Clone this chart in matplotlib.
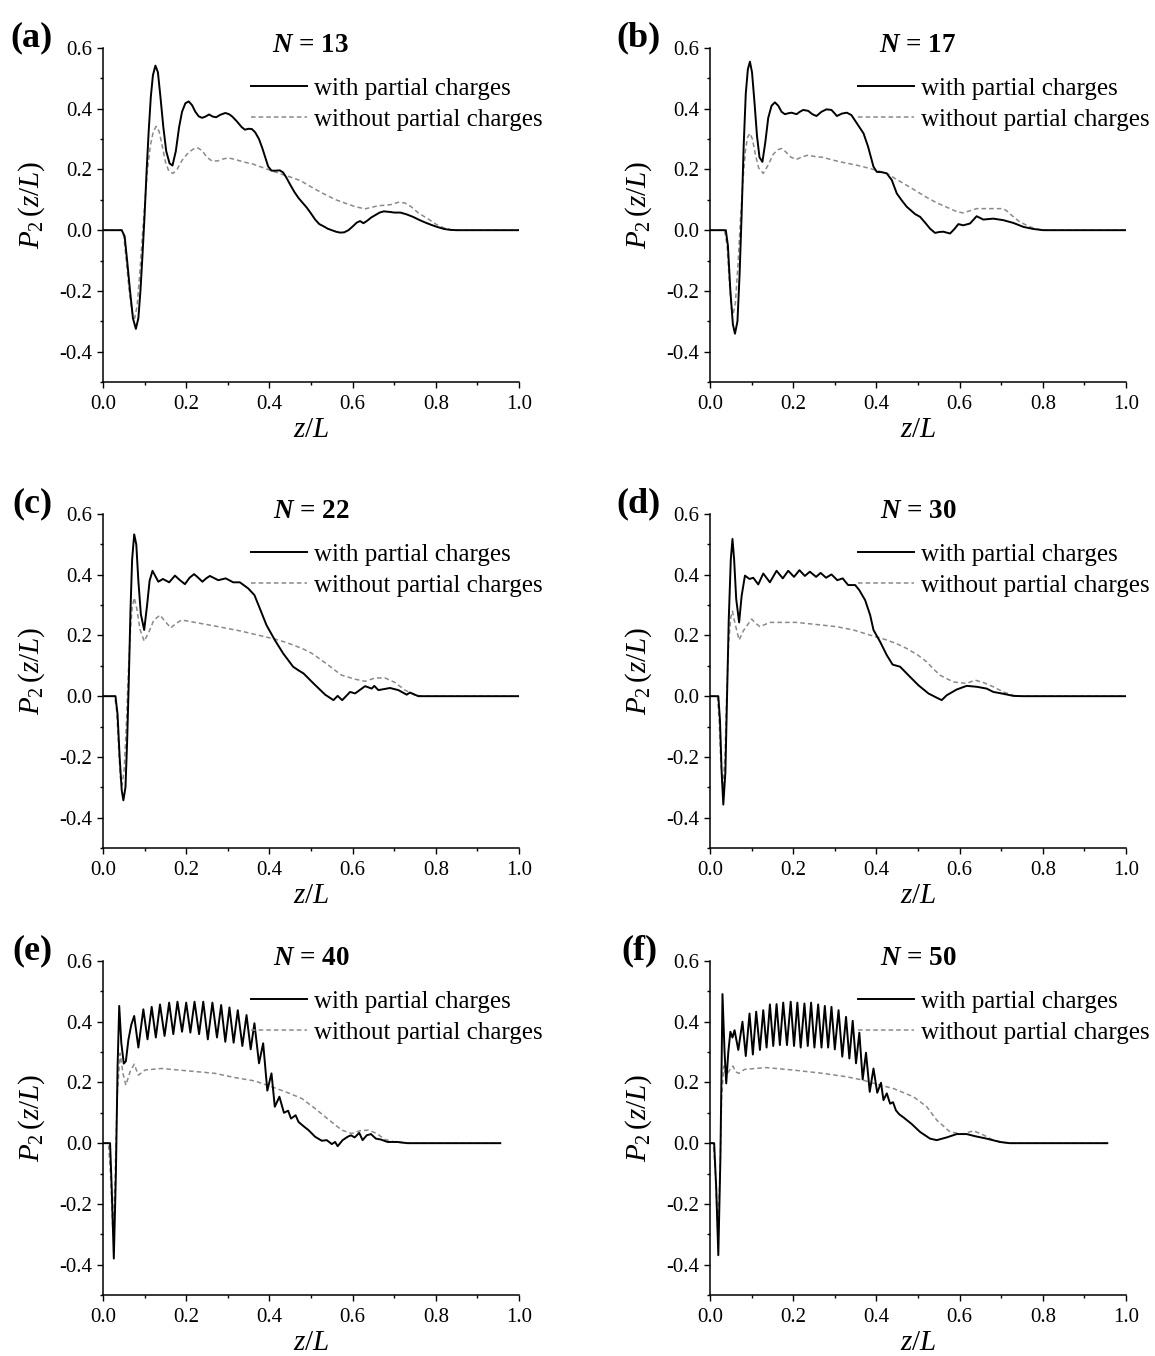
import numpy as np
import matplotlib
matplotlib.use("Agg")
from matplotlib import pyplot as plt
from matplotlib.ticker import MultipleLocator

plt.rcParams['font.family'] = ['Liberation Serif', 'DejaVu Serif']
plt.rcParams['mathtext.fontset'] = 'custom'
plt.rcParams['mathtext.rm'] = 'Liberation Serif'
plt.rcParams['mathtext.it'] = 'Liberation Serif:italic'
plt.rcParams['mathtext.bf'] = 'Liberation Serif:bold'
plt.rcParams['mathtext.bfit'] = 'Liberation Serif:italic:bold'
plt.rcParams['axes.unicode_minus'] = False

# ---- data: (z/L, P2) pairs ----
a_with = [(0, 0), (0.045, 0), (0.052, -0.02), (0.058, -0.1), (0.065, -0.2), (0.072, -0.29), (0.079, -0.325),
          (0.085, -0.29), (0.09, -0.2), (0.095, -0.08), (0.1, 0.05), (0.105, 0.2), (0.11, 0.33), (0.115, 0.44),
          (0.12, 0.51), (0.126, 0.542), (0.132, 0.52), (0.138, 0.44), (0.145, 0.34), (0.152, 0.26), (0.16, 0.22),
          (0.167, 0.213), (0.175, 0.26), (0.183, 0.34), (0.19, 0.39), (0.198, 0.418), (0.206, 0.424), (0.214, 0.412),
          (0.222, 0.39), (0.23, 0.375), (0.238, 0.37), (0.246, 0.374), (0.255, 0.381), (0.264, 0.374), (0.272, 0.372),
          (0.282, 0.38), (0.294, 0.386), (0.303, 0.382), (0.311, 0.374), (0.322, 0.358), (0.333, 0.34), (0.341, 0.331),
          (0.35, 0.334), (0.358, 0.333), (0.366, 0.322), (0.375, 0.3), (0.383, 0.27), (0.39, 0.24), (0.397, 0.21),
          (0.405, 0.196), (0.415, 0.196), (0.425, 0.197), (0.433, 0.19), (0.44, 0.175), (0.45, 0.15), (0.46, 0.126),
          (0.47, 0.106), (0.48, 0.09), (0.49, 0.074), (0.5, 0.055), (0.51, 0.035), (0.52, 0.02), (0.53, 0.013),
          (0.54, 0.005), (0.55, 0.0), (0.56, -0.005), (0.57, -0.008), (0.58, -0.007), (0.59, 0.0), (0.6, 0.012),
          (0.61, 0.025), (0.618, 0.03), (0.626, 0.023), (0.634, 0.03), (0.645, 0.042), (0.655, 0.05), (0.665, 0.058),
          (0.675, 0.062), (0.69, 0.06), (0.7, 0.058), (0.715, 0.058), (0.73, 0.052), (0.745, 0.044), (0.76, 0.034),
          (0.775, 0.025), (0.79, 0.017), (0.805, 0.01), (0.82, 0.004), (0.835, 0.001), (0.85, 0), (1.0, 0)]
a_without = [(0, 0), (0.045, 0), (0.05, -0.02), (0.056, -0.1), (0.063, -0.2), (0.07, -0.27), (0.076, -0.29),
             (0.082, -0.25), (0.088, -0.15), (0.094, -0.03), (0.1, 0.08), (0.107, 0.2), (0.114, 0.28), (0.121, 0.325),
             (0.128, 0.342), (0.135, 0.325), (0.142, 0.28), (0.15, 0.225), (0.158, 0.195), (0.168, 0.187), (0.178, 0.2),
             (0.19, 0.23), (0.205, 0.255), (0.218, 0.268), (0.228, 0.271), (0.238, 0.262), (0.25, 0.24), (0.262, 0.228),
             (0.275, 0.228), (0.29, 0.235), (0.302, 0.238), (0.32, 0.232), (0.34, 0.224), (0.36, 0.218), (0.38, 0.208),
             (0.405, 0.196), (0.43, 0.184), (0.457, 0.172), (0.475, 0.163), (0.491, 0.15), (0.51, 0.135), (0.526, 0.123),
             (0.545, 0.11), (0.56, 0.1), (0.58, 0.09), (0.603, 0.079), (0.629, 0.07), (0.645, 0.075), (0.663, 0.081),
             (0.68, 0.082), (0.695, 0.085), (0.71, 0.092), (0.725, 0.09), (0.74, 0.078), (0.758, 0.057), (0.772, 0.045),
             (0.784, 0.035), (0.8, 0.02), (0.818, 0.008), (0.835, 0.002), (0.85, 0), (1, 0)]

b_with = [(0, 0), (0.038, 0), (0.043, -0.05), (0.049, -0.2), (0.055, -0.31), (0.06, -0.341), (0.066, -0.3),
          (0.071, -0.15), (0.076, 0.05), (0.081, 0.28), (0.086, 0.45), (0.091, 0.53), (0.096, 0.555), (0.101, 0.52),
          (0.107, 0.42), (0.113, 0.31), (0.119, 0.24), (0.126, 0.225), (0.133, 0.29), (0.14, 0.37), (0.148, 0.41),
          (0.156, 0.421), (0.164, 0.41), (0.172, 0.39), (0.18, 0.382), (0.188, 0.385), (0.196, 0.387), (0.208, 0.382),
          (0.216, 0.39), (0.224, 0.396), (0.236, 0.393), (0.246, 0.382), (0.256, 0.376), (0.268, 0.39), (0.28, 0.398),
          (0.292, 0.396), (0.3, 0.384), (0.305, 0.376), (0.317, 0.384), (0.329, 0.387), (0.34, 0.379), (0.353, 0.352),
          (0.369, 0.319), (0.38, 0.275), (0.393, 0.209), (0.401, 0.192), (0.413, 0.191), (0.425, 0.187), (0.437, 0.165),
          (0.449, 0.121), (0.461, 0.098), (0.473, 0.077), (0.493, 0.053), (0.505, 0.044), (0.517, 0.025),
          (0.529, 0.005), (0.541, -0.009), (0.551, -0.006), (0.561, -0.005), (0.577, -0.011), (0.587, 0.003),
          (0.597, 0.02), (0.609, 0.016), (0.625, 0.022), (0.641, 0.046), (0.657, 0.035), (0.681, 0.038),
          (0.705, 0.033), (0.729, 0.024), (0.753, 0.011), (0.777, 0.004), (0.801, 0), (1, 0)]
b_without = [(0, 0), (0.035, 0), (0.041, -0.05), (0.047, -0.18), (0.052, -0.26), (0.056, -0.275), (0.061, -0.24),
             (0.067, -0.12), (0.073, 0.03), (0.079, 0.16), (0.085, 0.26), (0.09, 0.305), (0.096, 0.319), (0.102, 0.3),
             (0.109, 0.25), (0.117, 0.205), (0.128, 0.187), (0.14, 0.215), (0.152, 0.25), (0.163, 0.265),
             (0.172, 0.269), (0.182, 0.258), (0.195, 0.24), (0.208, 0.233), (0.222, 0.242), (0.236, 0.247),
             (0.254, 0.242), (0.272, 0.24), (0.292, 0.232), (0.313, 0.225), (0.353, 0.214), (0.385, 0.203),
             (0.425, 0.187), (0.445, 0.17), (0.465, 0.154), (0.485, 0.138), (0.505, 0.121), (0.525, 0.105),
             (0.545, 0.09), (0.577, 0.071), (0.595, 0.06), (0.609, 0.057), (0.625, 0.064), (0.641, 0.071),
             (0.673, 0.071), (0.705, 0.071), (0.715, 0.062), (0.725, 0.049), (0.745, 0.027), (0.769, 0.011),
             (0.785, 0.004), (0.801, 0), (1, 0)]

c_with = [(0, 0), (0.03, 0), (0.035, -0.06), (0.04, -0.2), (0.045, -0.31), (0.049, -0.343), (0.054, -0.3),
          (0.058, -0.15), (0.062, 0.05), (0.066, 0.28), (0.07, 0.45), (0.075, 0.533), (0.08, 0.5), (0.085, 0.38),
          (0.091, 0.27), (0.099, 0.218), (0.106, 0.3), (0.112, 0.38), (0.119, 0.413), (0.126, 0.395), (0.133, 0.377),
          (0.144, 0.386), (0.159, 0.375), (0.173, 0.397), (0.185, 0.382), (0.197, 0.369), (0.208, 0.39),
          (0.219, 0.402), (0.229, 0.39), (0.239, 0.377), (0.248, 0.388), (0.257, 0.396), (0.277, 0.382),
          (0.295, 0.388), (0.313, 0.375), (0.329, 0.375), (0.349, 0.355), (0.364, 0.333), (0.377, 0.289),
          (0.393, 0.234), (0.413, 0.185), (0.433, 0.141), (0.457, 0.097), (0.47, 0.085), (0.482, 0.075),
          (0.506, 0.042), (0.534, 0.005), (0.554, -0.013), (0.564, 0.001), (0.575, -0.013), (0.594, 0.014),
          (0.606, 0.009), (0.63, 0.033), (0.646, 0.025), (0.652, 0.034), (0.662, 0.02), (0.69, 0.027), (0.71, 0.02),
          (0.73, 0.005), (0.738, 0.012), (0.758, 0), (1, 0)]
c_without = [(0, 0), (0.028, 0), (0.033, -0.05), (0.038, -0.18), (0.042, -0.27), (0.046, -0.293), (0.051, -0.24),
             (0.056, -0.1), (0.061, 0.08), (0.066, 0.22), (0.07, 0.29), (0.075, 0.324), (0.081, 0.29), (0.089, 0.22),
             (0.099, 0.181), (0.11, 0.21), (0.122, 0.25), (0.137, 0.267), (0.15, 0.245), (0.163, 0.225),
             (0.176, 0.24), (0.189, 0.251), (0.221, 0.243), (0.277, 0.229), (0.333, 0.214), (0.373, 0.201),
             (0.413, 0.188), (0.438, 0.178), (0.462, 0.166), (0.482, 0.155), (0.502, 0.141), (0.522, 0.122),
             (0.542, 0.102), (0.558, 0.085), (0.574, 0.069), (0.606, 0.056), (0.63, 0.049), (0.654, 0.06),
             (0.678, 0.06), (0.702, 0.045), (0.726, 0.02), (0.75, 0.003), (0.774, 0), (1, 0)]

d_with = [(0, 0), (0.02, 0), (0.024, -0.08), (0.028, -0.25), (0.032, -0.357), (0.037, -0.25), (0.041, 0.0),
          (0.045, 0.25), (0.05, 0.45), (0.054, 0.518), (0.058, 0.45), (0.063, 0.32), (0.07, 0.243), (0.076, 0.33),
          (0.084, 0.397), (0.095, 0.386), (0.104, 0.39), (0.116, 0.368), (0.128, 0.404), (0.144, 0.375),
          (0.16, 0.413), (0.175, 0.388), (0.188, 0.413), (0.202, 0.393), (0.215, 0.415), (0.228, 0.396),
          (0.24, 0.41), (0.255, 0.393), (0.266, 0.406), (0.279, 0.39), (0.292, 0.401), (0.306, 0.382),
          (0.319, 0.388), (0.332, 0.366), (0.349, 0.366), (0.359, 0.349), (0.373, 0.316), (0.385, 0.267),
          (0.393, 0.218), (0.409, 0.179), (0.425, 0.135), (0.439, 0.104), (0.457, 0.097), (0.477, 0.069),
          (0.501, 0.036), (0.525, 0.009), (0.545, -0.005), (0.557, -0.013), (0.569, 0.003), (0.593, 0.022),
          (0.617, 0.034), (0.641, 0.031), (0.665, 0.025), (0.681, 0.014), (0.705, 0.008), (0.729, 0.001),
          (0.75, 0), (1, 0)]
d_without = [(0, 0), (0.018, 0), (0.022, -0.08), (0.026, -0.22), (0.031, -0.3), (0.036, -0.2), (0.04, 0.0),
             (0.045, 0.18), (0.05, 0.26), (0.054, 0.28), (0.06, 0.24), (0.07, 0.185), (0.08, 0.215), (0.1, 0.254),
             (0.11, 0.24), (0.12, 0.229), (0.144, 0.243), (0.208, 0.243), (0.256, 0.236), (0.304, 0.229),
             (0.345, 0.218), (0.385, 0.201), (0.425, 0.185), (0.45, 0.172), (0.473, 0.157), (0.5, 0.135),
             (0.521, 0.113), (0.537, 0.09), (0.553, 0.069), (0.585, 0.047), (0.617, 0.042), (0.637, 0.053),
             (0.657, 0.045), (0.681, 0.031), (0.705, 0.014), (0.733, 0.001), (0.761, 0), (1, 0)]

e_with = [(0, 0), (0.017, 0), (0.021, -0.15), (0.026, -0.38), (0.031, -0.1), (0.035, 0.25), (0.039, 0.452),
          (0.044, 0.33), (0.05, 0.262), (0.055, 0.27), (0.061, 0.34), (0.068, 0.39), (0.075, 0.419), (0.085, 0.315),
          (0.097, 0.441), (0.107, 0.342), (0.117, 0.449), (0.127, 0.348), (0.137, 0.457), (0.148, 0.353),
          (0.159, 0.463), (0.169, 0.359), (0.179, 0.466), (0.19, 0.367), (0.2, 0.463), (0.21, 0.364), (0.22, 0.466),
          (0.231, 0.359), (0.241, 0.466), (0.252, 0.342), (0.263, 0.463), (0.274, 0.348), (0.284, 0.455),
          (0.294, 0.334), (0.304, 0.447), (0.314, 0.331), (0.324, 0.438), (0.335, 0.32), (0.345, 0.422),
          (0.355, 0.309), (0.364, 0.395), (0.375, 0.263), (0.385, 0.329), (0.395, 0.173), (0.405, 0.23),
          (0.413, 0.12), (0.424, 0.153), (0.435, 0.1), (0.445, 0.107), (0.452, 0.081), (0.463, 0.092), (0.47, 0.07),
          (0.482, 0.056), (0.494, 0.043), (0.51, 0.021), (0.526, 0.008), (0.538, 0.01), (0.55, -0.003),
          (0.558, 0.004), (0.564, -0.01), (0.576, 0.01), (0.588, 0.021), (0.596, 0.026), (0.605, 0.019),
          (0.616, 0.034), (0.624, 0.01), (0.634, 0.026), (0.644, 0.03), (0.656, 0.015), (0.668, 0.012),
          (0.684, 0.004), (0.708, 0.004), (0.732, 0), (0.955, 0)]
e_without = [(0, 0), (0.013, 0), (0.018, -0.1), (0.024, -0.3), (0.029, -0.12), (0.034, 0.15), (0.041, 0.296),
             (0.048, 0.23), (0.055, 0.191), (0.065, 0.235), (0.075, 0.26), (0.085, 0.224), (0.101, 0.241),
             (0.141, 0.246), (0.205, 0.238), (0.269, 0.23), (0.317, 0.216), (0.365, 0.205), (0.405, 0.186),
             (0.445, 0.166), (0.478, 0.147), (0.51, 0.114), (0.542, 0.078), (0.574, 0.043), (0.598, 0.032),
             (0.618, 0.041), (0.638, 0.043), (0.658, 0.032), (0.678, 0.012), (0.702, 0.004), (0.732, 0), (0.955, 0)]

f_with = [(0, 0), (0.01, 0), (0.015, -0.15), (0.02, -0.369), (0.025, -0.05), (0.03, 0.491), (0.035, 0.3),
          (0.039, 0.197), (0.044, 0.3), (0.049, 0.367), (0.054, 0.348), (0.059, 0.372), (0.068, 0.307),
          (0.078, 0.4), (0.086, 0.287), (0.095, 0.427), (0.103, 0.292), (0.111, 0.433), (0.12, 0.307),
          (0.128, 0.438), (0.136, 0.315), (0.144, 0.457), (0.152, 0.32), (0.16, 0.458), (0.168, 0.323),
          (0.176, 0.463), (0.185, 0.323), (0.194, 0.466), (0.202, 0.32), (0.21, 0.463), (0.218, 0.315),
          (0.227, 0.46), (0.235, 0.32), (0.243, 0.463), (0.251, 0.315), (0.26, 0.457), (0.268, 0.315),
          (0.276, 0.452), (0.284, 0.315), (0.292, 0.449), (0.3, 0.309), (0.309, 0.438), (0.318, 0.285),
          (0.327, 0.416), (0.335, 0.279), (0.343, 0.403), (0.351, 0.263), (0.359, 0.364), (0.367, 0.21),
          (0.375, 0.298), (0.384, 0.169), (0.393, 0.246), (0.402, 0.166), (0.411, 0.199), (0.417, 0.142),
          (0.425, 0.164), (0.433, 0.13), (0.44, 0.135), (0.447, 0.108), (0.455, 0.095), (0.465, 0.085),
          (0.485, 0.063), (0.505, 0.037), (0.529, 0.015), (0.545, 0.01), (0.569, 0.019), (0.593, 0.03),
          (0.617, 0.03), (0.637, 0.023), (0.665, 0.015), (0.697, 0.004), (0.721, 0), (0.955, 0)]
f_without = [(0, 0), (0.008, 0), (0.013, -0.1), (0.019, -0.3), (0.024, -0.1), (0.028, 0.15), (0.033, 0.254),
             (0.039, 0.224), (0.047, 0.24), (0.055, 0.254), (0.062, 0.235), (0.069, 0.23), (0.083, 0.243),
             (0.135, 0.249), (0.199, 0.241), (0.271, 0.23), (0.327, 0.219), (0.367, 0.208), (0.409, 0.191),
             (0.441, 0.18), (0.489, 0.153), (0.521, 0.12), (0.545, 0.076), (0.577, 0.037), (0.609, 0.03),
             (0.633, 0.041), (0.653, 0.03), (0.681, 0.01), (0.705, 0.002), (0.729, 0), (0.955, 0)]

panel_tags = ['(a)', '(b)', '(c)', '(d)', '(e)', '(f)']
chain_n = [13, 17, 22, 30, 40, 50]
with_curves = [a_with, b_with, c_with, d_with, e_with, f_with]
without_curves = [a_without, b_without, c_without, d_without, e_without, f_without]

# ---- figure ----
W, H = 1155, 1356
fig = plt.figure(figsize=(W / 100, H / 100), dpi=100)

col_left = [103, 710]
row_top = [48, 514, 961]
ax_w, ax_h = 416, 334

for i in range(6):
  r, c = i // 2, i % 2
  x0, y0 = col_left[c], row_top[r]
  ax = fig.add_axes([x0 / W, 1 - (y0 + ax_h) / H, ax_w / W, ax_h / H])

  xw, yw = zip(*with_curves[i])
  xo, yo = zip(*without_curves[i])
  ax.plot(xw, yw, color='black', lw=1.4, label='with partial charges', zorder=3)
  ax.plot(xo, yo, color='#8a8a8a', lw=1.1, ls=(0, (3, 2)), label='without partial charges', zorder=2)

  ax.set_xlim(0, 1.0)
  ax.set_ylim(-0.5, 0.6)
  ax.xaxis.set_major_locator(MultipleLocator(0.2))
  ax.xaxis.set_minor_locator(MultipleLocator(0.1))
  ax.yaxis.set_minor_locator(MultipleLocator(0.1))
  ax.set_yticks([-0.4, -0.2, 0.0, 0.2, 0.4, 0.6])
  ax.xaxis.set_major_formatter(matplotlib.ticker.FormatStrFormatter('%.1f'))
  ax.yaxis.set_major_formatter(matplotlib.ticker.FormatStrFormatter('%.1f'))

  for s in ['top', 'right']:
    ax.spines[s].set_visible(False)
  for s in ['left', 'bottom']:
    ax.spines[s].set_linewidth(1.1)
  ax.tick_params(which='major', direction='out', length=4.5, width=1.0, labelsize=15)
  ax.tick_params(which='minor', direction='out', length=2.5, width=1.0)
  ax.tick_params(axis='y', which='major', pad=3.5)
  ax.tick_params(axis='x', which='major', pad=5)

  ax.set_xlabel(r'$z/L$', fontsize=21)
  ax.xaxis.set_label_coords(0.5, -0.105)
  ax.set_ylabel(r'$P_{2}\,(z/L)$', fontsize=21)
  ax.yaxis.set_label_coords(-0.135, 0.53)

  ax.text(0.5, 1.008, r'$\mathbfit{N}$' + ' = %d' % chain_n[i], transform=ax.transAxes,
          ha='center', va='center', fontsize=19.5, fontweight='bold')

  ax.legend(loc='upper left', bbox_to_anchor=(0.355, 0.912), frameon=False, fontsize=18,
            handlelength=2.25, handletextpad=0.3, labelspacing=0.34, borderpad=0, borderaxespad=0)

  fig.text((x0 - 71) / W, 1 - (y0 - 10) / H, panel_tags[i], ha='center', va='center',
           fontsize=26, fontweight='bold')

fig.savefig('out.png', dpi=100)
